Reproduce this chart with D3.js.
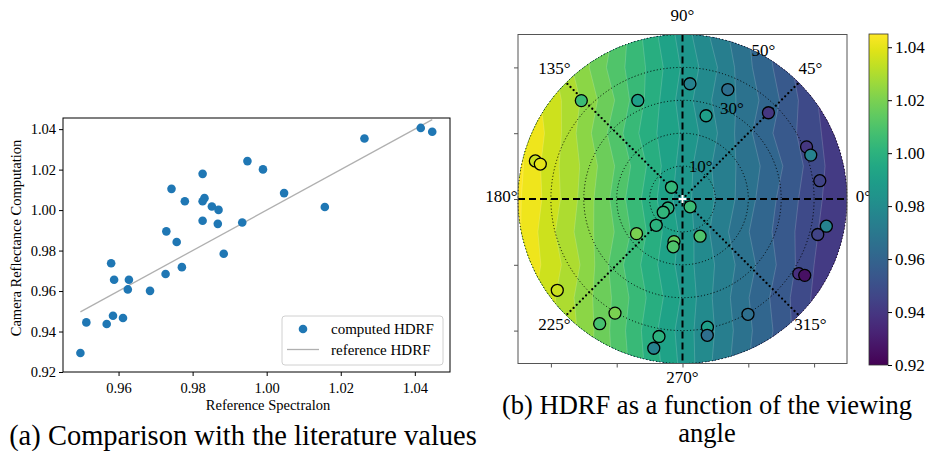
<!DOCTYPE html>
<html>
<head>
<meta charset="utf-8">
<script src="https://cdn.jsdelivr.net/npm/d3@7"></script>
<style>
body { margin: 0; background: #fff; }
svg text { font-family: "Liberation Serif", "Times New Roman", serif !important; fill: #000; }
</style>
</head>
<body>
<svg id="fig" width="931" height="451"></svg>
<script>
// (a) reference spectralon vs camera computation
var refX = [0.9948, 0.9827, 0.9743, 0.9779, 0.9827, 0.9832, 0.9852, 0.9870, 0.9827, 0.9868, 0.9934,
            0.9729, 0.9757, 0.9884, 0.9990, 1.0047, 1.0157, 1.0264, 1.0416, 1.0447, 0.9580, 0.9771,
            0.9727, 0.9588, 0.9628, 0.9625, 0.9685, 0.9513, 0.9585, 0.9612, 0.9568, 0.9497];
var camY = [1.0242, 1.0179, 1.0105, 1.0044, 1.0044, 1.0059, 1.0018, 1.0001, 0.9947, 0.9932, 0.9939,
            0.9895, 0.9842, 0.9784, 1.0201, 1.0084, 1.0015, 1.0354, 1.0406, 1.0387, 0.9737, 0.9718,
            0.9684, 0.9656, 0.9656, 0.9608, 0.9601, 0.9445, 0.9478, 0.9467, 0.9437, 0.9294];
var xTicks = [0.96, 0.98, 1.00, 1.02, 1.04];
var yTicks = [0.92, 0.94, 0.96, 0.98, 1.00, 1.02, 1.04];

// (b) HDRF samples: azimuth (deg), zenith (deg), value
var azimuth = [135.8, 114.4, 86.3, 165.5, 166.2, 133.2, 67.5, 74.2, 45.1, 22.8, 18.9, 7.6, 314.2, 211.8,
               214.5, 225, 217, 258.7, 259, 295.3, 216.1, 239.4, 236.4, 260.3, 259.1, 349.3, 345.3,
               327.3, 328, 299.6, 281, 280.3];
var zenith = [42.9, 32.9, 35.1, 46.2, 44.5, 4.9, 36, 26.3, 37, 40.9, 41.2, 42.1, 3.3, 5.2, 7.1, 11.3,
              17.5, 13.2, 14.8, 12.5, 47.1, 40.3, 45.5, 42.4, 46.2, 44.5, 42.5, 42, 43.8, 40.3, 39.7, 42.1];
var hdrf = [1.005, 0.99, 0.975, 1.035, 1.04, 1.003, 0.965, 0.99, 0.94, 0.94, 0.975, 0.945, 1.005, 1.0,
            1.002, 1.0, 1.02, 1.015, 1.01, 1.01, 1.035, 1.02, 1.008, 1.0, 0.975, 0.975, 0.945, 0.937,
            0.925, 0.965, 0.99, 0.965];
var ringLevels = [10, 20, 30, 40, 50];
var ringLabels = [10, 30, 50];
var angleLabels = [0, 45, 90, 135, 180, 225, 270, 315];
var frameTicks = [-40, -20, 0, 20, 40];
var cbarTicks = [0.92, 0.94, 0.96, 0.98, 1.00, 1.02, 1.04];

// background HDRF field, rows from top (y=+50) to bottom (y=-50), columns x=-50..50 (deg)
var field = [
  [1.045, 1.036, 1.025, 1.012, 0.998, 0.986, 0.974, 0.964, 0.953, 0.943, 0.935],
  [1.046, 1.034, 1.022, 1.010, 1.000, 0.988, 0.977, 0.965, 0.955, 0.944, 0.936],
  [1.045, 1.036, 1.025, 1.013, 0.999, 0.986, 0.975, 0.967, 0.957, 0.946, 0.937],
  [1.046, 1.037, 1.023, 1.010, 0.997, 0.988, 0.977, 0.965, 0.955, 0.947, 0.938],
  [1.047, 1.035, 1.025, 1.013, 1.000, 0.986, 0.975, 0.967, 0.958, 0.948, 0.939],
  [1.046, 1.036, 1.024, 1.011, 0.998, 0.985, 0.976, 0.966, 0.956, 0.947, 0.939],
  [1.046, 1.034, 1.023, 1.013, 1.000, 0.987, 0.974, 0.964, 0.955, 0.946, 0.938],
  [1.045, 1.036, 1.025, 1.010, 0.998, 0.986, 0.976, 0.966, 0.956, 0.945, 0.936],
  [1.044, 1.034, 1.023, 1.012, 1.000, 0.988, 0.975, 0.964, 0.954, 0.944, 0.935],
  [1.045, 1.035, 1.024, 1.011, 0.998, 0.986, 0.976, 0.965, 0.955, 0.943, 0.934],
  [1.044, 1.034, 1.023, 1.012, 0.999, 0.987, 0.975, 0.964, 0.953, 0.942, 0.933]
];

var svg = d3.select("#fig");
var fmt = d3.format(".2f");
var serif = "Liberation Serif, Times New Roman, serif";

// ---------- left panel ----------
var x = d3.scaleLinear().domain([0.945, 1.0495]).range([63, 450]);
var y = d3.scaleLinear().domain([0.92, 1.0455]).range([372, 118]);

var left = svg.append("g");

var xExt = d3.extent(refX);
left.append("line")
    .attr("x1", x(xExt[0])).attr("y1", y(xExt[0]))
    .attr("x2", x(xExt[1])).attr("y2", y(xExt[1]))
    .attr("stroke", "#b0b0b0").attr("stroke-width", 1.3);

left.selectAll("circle.pt")
    .data(refX)
    .enter().append("circle")
    .attr("class", "pt")
    .attr("cx", function(d) { return x(d); })
    .attr("cy", function(d, i) { return y(camY[i]); })
    .attr("r", 4.3)
    .attr("fill", "#1f77b4");

left.append("rect")
    .attr("x", 63).attr("y", 118).attr("width", 387).attr("height", 254)
    .attr("fill", "none").attr("stroke", "#000").attr("stroke-width", 1);

var xAxis = left.append("g").attr("transform", "translate(0,372)")
    .call(d3.axisBottom(x).tickValues(xTicks).tickFormat(fmt).tickSize(4).tickSizeOuter(0));
var yAxis = left.append("g").attr("transform", "translate(63,0)")
    .call(d3.axisLeft(y).tickValues(yTicks).tickFormat(fmt).tickSize(4).tickSizeOuter(0));
[xAxis, yAxis].forEach(function(a) {
    a.attr("font-family", serif).attr("font-size", 14.5);
    a.select(".domain").remove();
    a.selectAll("text").attr("fill", "#000");
});
xAxis.selectAll("text").attr("dy", "0.95em");

left.append("text").attr("x", 268).attr("y", 410).attr("font-family", serif)
    .attr("text-anchor", "middle").attr("font-size", 14.5).text("Reference Spectralon");
left.append("text").attr("transform", "translate(21,238) rotate(-90)").attr("font-family", serif)
    .attr("text-anchor", "middle").attr("font-size", 14.5).text("Camera Reflectance Computation");

// legend
var lg = left.append("g").attr("font-family", serif);
lg.append("rect").attr("x", 282).attr("y", 316).attr("width", 161).attr("height", 49).attr("rx", 3)
    .attr("fill", "#fff").attr("stroke", "#d0d0d0").attr("stroke-width", 1);
lg.append("circle").attr("cx", 303).attr("cy", 329).attr("r", 4.3).attr("fill", "#1f77b4");
lg.append("line").attr("x1", 287).attr("x2", 319).attr("y1", 349.5).attr("y2", 349.5)
    .attr("stroke", "#b0b0b0").attr("stroke-width", 1.3);
lg.append("text").attr("x", 331).attr("y", 334).attr("font-size", 15).text("computed HDRF");
lg.append("text").attr("x", 331).attr("y", 354.5).attr("font-size", 15).text("reference HDRF");

svg.append("text").attr("x", 243).attr("y", 445).attr("text-anchor", "middle").attr("font-family", serif)
    .attr("font-size", 28.5).text("(a) Comparison with the literature values");

// ---------- right panel (polar) ----------
var cx = 682.5, cy = 199, R = 164.5;
var s = d3.scaleLinear().domain([-50, 50]).range([-R, R]);
var rs = d3.scaleLinear().domain([0, 50]).range([0, R]);
var norm = d3.scaleLinear().domain([0.92, 1.045]).clamp(true);
var color = function(v) { return d3.interpolateViridis(norm(v)); };

var pg = svg.append("g").attr("font-family", serif);
svg.append("defs").append("clipPath").attr("id", "disk")
  .append("circle").attr("cx", cx).attr("cy", cy).attr("r", R);

var step = 0.00625;
var levels = d3.range(0, 21).map(function(i) { return 0.92 + i * step; });
var flat = [].concat.apply([], field);
var contours = d3.contours().size([11, 11]).thresholds(levels)(flat);
var proj = d3.geoTransform({
    point: function(gx, gy) { this.stream.point(cx + s(-55 + 10 * gx), cy - s(55 - 10 * gy)); }
});
var path = d3.geoPath(proj);

pg.append("g").attr("clip-path", "url(#disk)")
  .selectAll("path")
  .data(contours)
  .enter().append("path")
  .attr("d", path)
  .attr("fill", function(d) { return color(d.value + step / 2); })
  .attr("stroke", "rgba(255,255,255,0.35)")
  .attr("stroke-width", 0.5);

// rings
pg.selectAll("circle.ring")
  .data(ringLevels)
  .enter().append("circle")
  .attr("class", "ring")
  .attr("cx", cx).attr("cy", cy).attr("r", function(d) { return rs(d); })
  .attr("fill", "none").attr("stroke", "#000").attr("stroke-width", 1)
  .attr("stroke-dasharray", "1,2.3");

// diagonal dotted spokes
pg.selectAll("line.diag")
  .data([45, 135, 225, 315])
  .enter().append("line")
  .attr("x1", cx).attr("y1", cy)
  .attr("x2", function(d) { return cx + rs(50) * Math.cos(d * Math.PI / 180); })
  .attr("y2", function(d) { return cy - rs(50) * Math.sin(d * Math.PI / 180); })
  .attr("stroke", "#000").attr("stroke-width", 2.3)
  .attr("stroke-linecap", "round").attr("stroke-dasharray", "0,4.4");

// dashed cross
pg.append("line").attr("x1", cx + s(-50)).attr("x2", cx + s(50)).attr("y1", cy).attr("y2", cy)
  .attr("stroke", "#000").attr("stroke-width", 2).attr("stroke-dasharray", "7,4");
pg.append("line").attr("x1", cx).attr("x2", cx).attr("y1", cy - s(50)).attr("y2", cy + s(50))
  .attr("stroke", "#000").attr("stroke-width", 2).attr("stroke-dasharray", "7,4");

// samples
pg.selectAll("circle.smp")
  .data(hdrf)
  .enter().append("circle")
  .attr("class", "smp")
  .attr("cx", function(d, i) { return cx + s(zenith[i] * Math.cos(azimuth[i] * Math.PI / 180)); })
  .attr("cy", function(d, i) { return cy - s(zenith[i] * Math.sin(azimuth[i] * Math.PI / 180)); })
  .attr("r", 6)
  .attr("fill", function(d) { return color(d); })
  .attr("stroke", "#000").attr("stroke-width", 1.3);

// centre marker
pg.append("path").attr("d", "M" + (cx - 4) + "," + cy + "H" + (cx + 4) + "M" + cx + "," + (cy - 4) + "V" + (cy + 4))
  .attr("stroke", "#fff").attr("stroke-width", 2);

// frame and hidden-label ticks
pg.append("rect").attr("x", cx - R).attr("y", cy - R).attr("width", 2 * R).attr("height", 2 * R)
  .attr("fill", "none").attr("stroke", "#555").attr("stroke-width", 1);
var fx = d3.scaleLinear().domain([-50, 50]).range([cx - R, cx + R]);
var fy = d3.scaleLinear().domain([-50, 50]).range([cy + R, cy - R]);
var fb = pg.append("g").attr("transform", "translate(0," + (cy + R) + ")")
  .call(d3.axisBottom(fx).tickValues(frameTicks).tickFormat("").tickSize(4).tickSizeOuter(0));
var fl = pg.append("g").attr("transform", "translate(" + (cx - R) + ",0)")
  .call(d3.axisLeft(fy).tickValues(frameTicks).tickFormat("").tickSize(4).tickSizeOuter(0));
fb.select(".domain").remove();
fl.select(".domain").remove();
pg.selectAll(".tick line").attr("stroke", "#555");

// ring labels
pg.selectAll("text.rl")
  .data(ringLabels)
  .enter().append("text")
  .attr("class", "rl")
  .attr("x", function(d) { return cx + (rs(d) + 5) * Math.cos(61.5 * Math.PI / 180); })
  .attr("y", function(d) { return cy - (rs(d) + 5) * Math.sin(61.5 * Math.PI / 180); })
  .attr("text-anchor", "middle").attr("dy", "0.35em")
  .attr("font-size", 17)
  .text(function(d) { return d + "°"; });

// angle labels
pg.selectAll("text.al")
  .data(angleLabels)
  .enter().append("text")
  .attr("class", "al")
  .attr("x", function(d) { return cx + 181 * Math.cos(d * Math.PI / 180); })
  .attr("y", function(d) { return cy - 3 - 181 * Math.sin(d * Math.PI / 180); })
  .attr("text-anchor", "middle").attr("dy", "0.35em")
  .attr("font-size", 17)
  .text(function(d) { return d + "°"; });

// colorbar
var cb = d3.scaleLinear().domain([0.92, 1.045]).range([365, 34]);
var grad = svg.select("defs").append("linearGradient").attr("id", "vir")
  .attr("x1", 0).attr("y1", 1).attr("x2", 0).attr("y2", 0);
grad.selectAll("stop")
  .data(d3.range(0, 1.0001, 0.05))
  .enter().append("stop")
  .attr("offset", function(d) { return d; })
  .attr("stop-color", function(d) { return d3.interpolateViridis(d); });
svg.append("rect").attr("x", 869).attr("y", 34).attr("width", 19).attr("height", 331)
  .attr("fill", "url(#vir)").attr("stroke", "#333").attr("stroke-width", 0.8);
var cax = svg.append("g").attr("transform", "translate(888,0)")
  .call(d3.axisRight(cb).tickValues(cbarTicks).tickFormat(fmt).tickSize(4).tickSizeOuter(0));
cax.attr("font-family", serif).attr("font-size", 17);
cax.select(".domain").remove();
cax.selectAll("text").attr("fill", "#000");

svg.append("text").attr("x", 707).attr("y", 414).attr("text-anchor", "middle").attr("font-family", serif)
  .attr("font-size", 26.5).text("(b) HDRF as a function of the viewing");
svg.append("text").attr("x", 707).attr("y", 442).attr("text-anchor", "middle").attr("font-family", serif)
  .attr("font-size", 26.5).text("angle");
</script>
</body>
</html>
